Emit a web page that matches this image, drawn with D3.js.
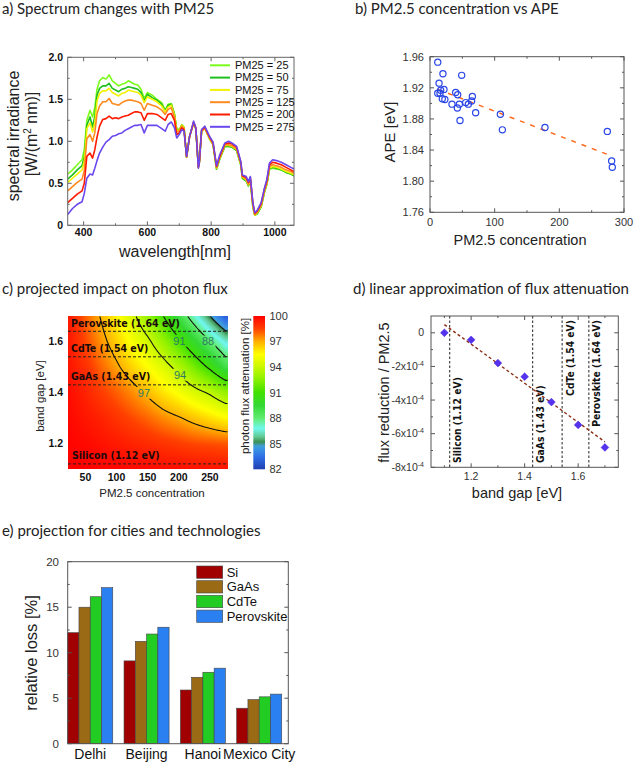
<!DOCTYPE html>
<html><head><meta charset="utf-8">
<script src="https://cdn.jsdelivr.net/npm/d3@7/dist/d3.min.js"></script>
<style>html,body{margin:0;padding:0;background:#fff}svg{display:block}</style>
</head><body>
<svg id="fig" width="642" height="762" xmlns="http://www.w3.org/2000/svg"></svg>
<script>
// ---------------- DATA ----------------
// a) spectra
const wl = [350,365,380,395,402,410,420,428,435,442,450,460,470,480,490,500,510,520,530,540,550,560,570,580,590,600,615,630,645,656,665,675,685,692,700,708,715,723,732,745,752,760,763,770,780,795,806,817,827,843,855,865,880,893,898,910,917,923,931,937,945,957,967,975,983,993,1005,1020,1035,1050,1060];
const s25 = [0.61,0.66,0.72,0.78,0.90,1.25,1.37,1.29,1.40,1.62,1.72,1.76,1.74,1.79,1.72,1.69,1.66,1.68,1.69,1.72,1.70,1.68,1.67,1.62,1.51,1.58,1.55,1.50,1.46,1.37,1.44,1.45,1.33,1.15,1.14,1.20,1.17,0.81,1.05,1.22,1.15,0.70,0.75,1.12,1.16,1.03,0.96,0.67,0.79,0.94,0.94,0.93,0.89,0.72,0.56,0.53,0.47,0.53,0.22,0.12,0.14,0.22,0.39,0.49,0.67,0.68,0.67,0.66,0.63,0.61,0.59];
const s50 = [0.55,0.60,0.66,0.71,0.82,1.19,1.29,1.17,1.30,1.55,1.63,1.66,1.66,1.69,1.63,1.61,1.59,1.62,1.63,1.65,1.64,1.63,1.62,1.58,1.48,1.56,1.52,1.49,1.44,1.36,1.43,1.44,1.32,1.14,1.13,1.19,1.16,0.81,1.05,1.22,1.15,0.70,0.75,1.12,1.16,1.03,0.96,0.67,0.79,0.94,0.94,0.93,0.89,0.72,0.56,0.53,0.47,0.53,0.22,0.12,0.14,0.22,0.39,0.49,0.67,0.69,0.68,0.66,0.63,0.61,0.59];
const s75 = [0.51,0.56,0.61,0.66,0.76,1.15,1.22,1.11,1.22,1.48,1.57,1.60,1.60,1.63,1.58,1.56,1.54,1.57,1.58,1.61,1.60,1.59,1.58,1.55,1.46,1.53,1.50,1.47,1.42,1.35,1.41,1.43,1.31,1.13,1.13,1.19,1.16,0.81,1.05,1.22,1.15,0.70,0.75,1.12,1.16,1.03,0.96,0.68,0.80,0.95,0.95,0.94,0.90,0.73,0.57,0.54,0.48,0.54,0.23,0.12,0.15,0.23,0.40,0.50,0.68,0.70,0.69,0.67,0.64,0.62,0.60];
const s125 = [0.41,0.46,0.51,0.55,0.65,1.03,1.08,1.00,1.10,1.33,1.42,1.47,1.47,1.51,1.45,1.44,1.43,1.46,1.48,1.49,1.49,1.48,1.47,1.45,1.37,1.45,1.43,1.41,1.37,1.32,1.38,1.40,1.29,1.11,1.12,1.18,1.15,0.81,1.05,1.22,1.15,0.69,0.75,1.12,1.16,1.04,0.97,0.69,0.81,0.96,0.96,0.95,0.91,0.74,0.58,0.55,0.49,0.55,0.24,0.13,0.16,0.24,0.41,0.51,0.70,0.72,0.71,0.69,0.66,0.64,0.62];
const s200 = [0.27,0.32,0.37,0.41,0.50,0.82,0.86,0.80,0.90,1.05,1.18,1.26,1.27,1.30,1.27,1.28,1.27,1.29,1.30,1.31,1.33,1.35,1.35,1.34,1.25,1.33,1.33,1.32,1.28,1.25,1.32,1.33,1.25,1.08,1.10,1.16,1.14,0.82,1.05,1.23,1.16,0.69,0.75,1.13,1.17,1.05,0.98,0.70,0.82,0.97,0.98,0.97,0.93,0.75,0.59,0.57,0.51,0.57,0.26,0.14,0.17,0.26,0.43,0.53,0.72,0.75,0.74,0.72,0.69,0.66,0.64];
const s275 = [0.13,0.20,0.25,0.28,0.38,0.56,0.61,0.60,0.68,0.77,0.86,0.93,0.99,1.02,1.06,1.07,1.09,1.10,1.13,1.15,1.17,1.19,1.19,1.20,1.10,1.19,1.19,1.19,1.15,1.12,1.20,1.23,1.16,1.04,1.08,1.14,1.12,0.82,1.05,1.24,1.16,0.68,0.75,1.14,1.18,1.06,0.99,0.71,0.84,0.98,1.00,0.98,0.94,0.76,0.60,0.58,0.52,0.58,0.27,0.15,0.18,0.27,0.44,0.55,0.74,0.78,0.77,0.75,0.72,0.69,0.67];
const pmLevels = [25,50,75,125,200,275];
const specColors = ['#7cfc1a','#1fbf1f','#f2f200','#ff8a1f','#ff1a00','#6a48ee'];
const xTicksA = [400,600,800,1000], xMinorA = [500,700,900];
const yTicksA = [0,0.5,1,1.5,2], yTickLabA = ['0','0.5','1.0','1.5','2.0'];

// b) APE scatter
const pmB  = [12,14,20,12,15.5,16.5,21.6,19,23,34,39.7,42.8,42.3,45.4,46.4,49,55.2,59.3,64.4,65.5,70.6,108.8,111.9,177.8,274.2,280.9,281.9];
const apeB = [1.953,1.926,1.938,1.913,1.913,1.917,1.918,1.906,1.905,1.899,1.914,1.911,1.894,1.899,1.878,1.936,1.901,1.899,1.903,1.909,1.888,1.886,1.866,1.869,1.864,1.826,1.818];
const trendXB = [12,282], trendYB = [1.918,1.832];
const xTicksB = [0,100,200,300], yTicksB = [1.76,1.80,1.84,1.88,1.92,1.96];

// c) heat map of photon flux attenuation [%]
const pmGrid = [25,50,75,100,125,150,175,200,225,250,275];
const egGrid = [1.1,1.2,1.3,1.4,1.5,1.6,1.7];
const att = [
  [100.0,100.0,99.9,99.9,99.8,99.8,99.7,99.7,99.6,99.6,99.5],
  [99.9,99.8,99.6,99.4,99.2,99.0,98.8,98.6,98.4,98.3,98.2],
  [99.8,99.5,99.2,98.8,98.4,98.0,97.5,97.1,96.6,96.1,95.6],
  [99.7,99.2,98.6,98.1,97.5,96.8,96.0,95.3,94.5,93.8,92.8],
  [99.5,98.9,98.0,97.2,96.3,95.5,94.6,93.5,92.1,90.7,89.0],
  [99.4,98.4,97.4,96.4,95.3,94.3,92.9,91.3,89.7,88.1,86.5],
  [99.4,98.1,96.9,95.7,94.4,92.8,91.0,89.1,87.1,85.0,82.9]
];
const contourLevels = [97,94,91,88,85];
const contourLabels = ['97','94','91','88'];
const contourLabelPM = [144,202,201,247];
const contourLabelEg = [1.399,1.470,1.603,1.600];
const matNames = ['Silicon (1.12 eV)','GaAs (1.43 eV)','CdTe (1.54 eV)','Perovskite (1.64 eV)'];
const matGaps = [1.12,1.43,1.54,1.64];
const xTicksC = [50,100,150,200,250], yTicksC = [1.2,1.4,1.6];
const cbTicks = [100,97,94,91,88,85,82];
const cmapStops  = [82,83.5,84.7,85.2,85.8,86.8,88,89.5,91,92.5,94,95.5,97,98.5,100];
const cmapColors = ['#2040b0','#2f70e8','#40a0e0','#3c8c50','#60c890','#70f8f0','#60ec70','#34d834','#40e000','#88f000','#c8f800','#ffff00','#ffb000','#ff4000','#ff0000'];

// d) linear approximation
const bgD = [1.1,1.2,1.3,1.4,1.5,1.6,1.7];
const slopeD = [0,-0.42e-4,-1.8e-4,-2.61e-4,-4.12e-4,-5.48e-4,-6.82e-4];
const errD = [0.05e-4,0.1e-4,0.08e-4,0.1e-4,0.1e-4,0.18e-4,0.2e-4];
const fitXD = [1.1,1.7], fitYD = [0.49e-4,-6.49e-4];
const xTicksD = [1.2,1.4,1.6], xMinorD = [1.1,1.3,1.5,1.7];
const yTicksD = [0,-2e-4,-4e-4,-6e-4,-8e-4], yTickLabD = ['0','-2x10','-4x10','-6x10','-8x10'];

// e) cities
const cities = ['Delhi','Beijing','Hanoi','Mexico City'];
const techs = ['Si','GaAs','CdTe','Perovskite'];
const lossSi   = [12.2,9.1,5.9,3.9];
const lossGaAs = [15.0,11.25,7.3,4.85];
const lossCdTe = [16.15,12.05,7.85,5.15];
const lossPero = [17.15,12.8,8.3,5.45];
const techColors = ['#a00000','#9a6a14','#22cc22','#2a80f0'];
const yTicksE = [0,5,10,15,20];

// ---------------- DRAWING ----------------
const ARIAL = '"Liberation Sans", Arial, sans-serif';
const NARROW = '"Liberation Sans Narrow","Arial Narrow","DejaVu Sans Condensed",sans-serif';
const svg = d3.select('#fig');
const defs = svg.append('defs');
svg.append('rect').attr('width',642).attr('height',762).attr('fill','#fff');

function txt(g, x, y, s, o={}) {
  const t = g.append('text').attr('x',x).attr('y',y).text(s)
    .attr('font-family', o.ff||ARIAL).attr('font-size', o.fs||11)
    .attr('fill', o.fill||'#222').attr('text-anchor', o.anchor||'start');
  if (o.fw) t.attr('font-weight', o.fw);
  if (o.dy) t.attr('dy', o.dy);
  return t;
}
function rtext(g, cx, cy, fs, anchor) {
  return g.append('g').attr('transform',`translate(${cx},${cy}) rotate(-90)`)
    .append('text').attr('x',0).attr('y',0.35*fs).attr('font-family',ARIAL)
    .attr('font-size',fs).attr('fill','#222').attr('text-anchor',anchor||'middle');
}
function hTicks(g, x, vals, yBot, yTop, len, col) {
  g.selectAll(null).data(vals).join('line').attr('x1',d=>x(d)).attr('x2',d=>x(d))
    .attr('y1',yBot).attr('y2',yBot-len).attr('stroke',col);
  if (yTop!=null) g.selectAll(null).data(vals).join('line').attr('x1',d=>x(d)).attr('x2',d=>x(d))
    .attr('y1',yTop).attr('y2',yTop+len).attr('stroke',col);
}
function vTicks(g, y, vals, xL, xR, len, col) {
  g.selectAll(null).data(vals).join('line').attr('y1',d=>y(d)).attr('y2',d=>y(d))
    .attr('x1',xL).attr('x2',xL+len).attr('stroke',col);
  if (xR!=null) g.selectAll(null).data(vals).join('line').attr('y1',d=>y(d)).attr('y2',d=>y(d))
    .attr('x1',xR).attr('x2',xR-len).attr('stroke',col);
}
function frame(g, x, y, col) {
  const [x0,x1]=x.range(); const [y1,y0]=y.range();
  g.append('rect').attr('x',x0).attr('y',y0).attr('width',x1-x0).attr('height',y1-y0)
    .attr('fill','none').attr('stroke',col).attr('stroke-width',1);
}
function title(x,y,t){ svg.append('text').attr('x',x).attr('y',y).attr('font-family','Lato, "Open Sans", sans-serif').attr('font-size',15).attr('fill','#222').text(t); }

title(2,13.5,'a) Spectrum changes with PM25');
title(355,13.5,'b) PM2.5 concentration vs APE');
title(2,294,'c) projected impact on photon flux');
title(353,294,'d) linear approximation of flux attenuation');
title(2,535.5,'e) projection for cities and technologies');

// ===== Panel a =====
{
  const g = svg.append('g');
  const x = d3.scaleLinear().domain([350,1060]).range([67.7,294]);
  const y = d3.scaleLinear().domain([0,2]).range([225.3,57.3]);
  defs.append('clipPath').attr('id','clipA').append('rect').attr('x',67.7).attr('y',57.3).attr('width',294-67.7).attr('height',225.3-57.3);
  const line = d3.line().x((d,i)=>x(wl[i])).y(d=>y(d));
  const series = [s25,s50,s75,s125,s200,s275];
  const pg = g.append('g').attr('clip-path','url(#clipA)');
  series.forEach((s,k)=>pg.append('path').attr('d',line(s)).attr('fill','none')
    .attr('stroke',specColors[k]).attr('stroke-width',1.6).attr('stroke-linejoin','round'));
  frame(g,x,y,'#666');
  hTicks(g,x,xTicksA,225.3,57.3,4,'#666'); hTicks(g,x,xMinorA,225.3,57.3,2,'#666');
  vTicks(g,y,yTicksA,67.7,294,4,'#666'); vTicks(g,y,[0.25,0.75,1.25,1.75],67.7,294,2,'#666');
  xTicksA.forEach(v=>txt(g,x(v),236,String(v),{fs:10.5,fw:'bold',anchor:'middle',fill:'#111'}));
  yTicksA.forEach((v,i)=>txt(g,63,y(v),yTickLabA[i],{fs:10.5,fw:'bold',anchor:'end',dy:'0.35em',fill:'#111'}));
  pmLevels.forEach((p,k)=>{
    const yy = 65.3 + k*12.3;
    g.append('line').attr('x1',210).attr('x2',230).attr('y1',yy).attr('y2',yy).attr('stroke',specColors[k]).attr('stroke-width',2);
    txt(g,235,yy,'PM25 = '+p,{fs:11,dy:'0.35em',fill:'#111'});
  });
  rtext(g,13.5,136,16).text('spectral irradiance');
  const t2 = rtext(g,31.7,134,16);
  t2.append('tspan').text('[W/(m');
  t2.append('tspan').attr('dy',-6).attr('font-size',10).text('2');
  t2.append('tspan').attr('dy',6).text(' nm)]');
  txt(g,175,257,'wavelength[nm]',{fs:16,anchor:'middle'});
}

// ===== Panel b =====
{
  const g = svg.append('g');
  const x = d3.scaleLinear().domain([0,300]).range([430,624]);
  const y = d3.scaleLinear().domain([1.76,1.96]).range([212.3,56.7]);
  frame(g,x,y,'#555');
  hTicks(g,x,xTicksB,212.3,56.7,4,'#555'); hTicks(g,x,[50,150,250],212.3,56.7,2,'#555');
  vTicks(g,y,yTicksB,430,624,4,'#555'); vTicks(g,y,[1.78,1.82,1.86,1.90,1.94],430,624,2,'#555');
  xTicksB.forEach(v=>txt(g,x(v),226,String(v),{fs:11,anchor:'middle',fill:'#333'}));
  yTicksB.forEach(v=>txt(g,424,y(v),v.toFixed(2),{fs:11,anchor:'end',dy:'0.35em',fill:'#333'}));
  g.append('path').attr('d',d3.line().x((d,i)=>x(trendXB[i])).y(d=>y(d))(trendYB))
    .attr('stroke','#ff6a20').attr('stroke-width',1.5).attr('stroke-dasharray','5,6').attr('fill','none');
  g.selectAll(null).data(pmB).join('circle').attr('cx',d=>x(d)).attr('cy',(d,i)=>y(apeB[i])).attr('r',3.1)
    .attr('fill','none').attr('stroke','#2a46e6').attr('stroke-width',1.2);
  rtext(g,390,132,15).text('APE [eV]');
  txt(g,520,245,'PM2.5 concentration',{fs:14.5,anchor:'middle'});
}

// ===== Panel c =====
{
  const g = svg.append('g');
  const X0=68, X1=228, Y0=316, Y1=469;
  const x = d3.scaleLinear().domain([22,279]).range([X0,X1]);
  const y = d3.scaleLinear().domain([1.1,1.7]).range([Y1,Y0]);
  const cmap = d3.scaleLinear().domain(cmapStops).range(cmapColors).clamp(true);
  function bil(pm, eg){
    const fx = Math.max(0, Math.min(pmGrid.length-1.0001, (pm-pmGrid[0])/(pmGrid[1]-pmGrid[0])));
    const fy = Math.max(0, Math.min(egGrid.length-1.0001, (eg-egGrid[0])/(egGrid[1]-egGrid[0])));
    const i=Math.floor(fx), j=Math.floor(fy), tx=fx-i, ty=fy-j;
    return att[j][i]*(1-tx)*(1-ty)+att[j][i+1]*tx*(1-ty)+att[j+1][i]*(1-tx)*ty+att[j+1][i+1]*tx*ty;
  }
  const W=X1-X0, H=Y1-Y0;
  const cv=document.createElement('canvas'); cv.width=W; cv.height=H;
  const ctx=cv.getContext('2d'); const img=ctx.createImageData(W,H);
  const vals = new Array(W*H);
  for(let j=0;j<H;j++) for(let i=0;i<W;i++){
    const v = bil(x.invert(X0+i+0.5), y.invert(Y0+j+0.5));
    vals[j*W+i]=v;
    const c=d3.rgb(cmap(v)); const k=(j*W+i)*4;
    img.data[k]=c.r; img.data[k+1]=c.g; img.data[k+2]=c.b; img.data[k+3]=255;
  }
  ctx.putImageData(img,0,0);
  g.append('image').attr('x',X0).attr('y',Y0).attr('width',W).attr('height',H).attr('href',cv.toDataURL());

  // contour lines
  const conts = d3.contours().size([W,H]).thresholds(contourLevels)(vals);
  const onEdge = p => p[0]<=1 || p[0]>=W-1 || p[1]<=1 || p[1]>=H-1;
  let dstr='';
  conts.forEach(c=>c.coordinates.forEach(poly=>poly.forEach(ring=>{
    let pen=false;
    for(let k=1;k<ring.length;k++){
      const a=ring[k-1], b=ring[k];
      if(onEdge(a)&&onEdge(b)){ pen=false; continue; }
      if(!pen){ dstr+=`M${(X0+a[0]).toFixed(2)},${(Y0+a[1]).toFixed(2)}`; pen=true; }
      dstr+=`L${(X0+b[0]).toFixed(2)},${(Y0+b[1]).toFixed(2)}`;
    }
  })));
  const mask = defs.append('mask').attr('id','lblMask').attr('maskUnits','userSpaceOnUse').attr('x',0).attr('y',0).attr('width',642).attr('height',762);
  mask.append('rect').attr('x',0).attr('y',0).attr('width',642).attr('height',762).attr('fill','white');
  contourLabels.forEach((l,i)=>mask.append('rect').attr('x',x(contourLabelPM[i])-7.5).attr('y',y(contourLabelEg[i])-6).attr('width',15).attr('height',12).attr('fill','black'));
  g.append('path').attr('d',dstr).attr('fill','none').attr('stroke','#111').attr('stroke-width',1.1).attr('mask','url(#lblMask)');
  contourLabels.forEach((l,i)=>txt(g,x(contourLabelPM[i]),y(contourLabelEg[i]),l,{fs:11,anchor:'middle',dy:'0.36em',fill:'#2d7a68'}));

  // material lines
  matGaps.forEach((e,i)=>{
    g.append('line').attr('x1',X0).attr('x2',X1).attr('y1',y(e)).attr('y2',y(e))
      .attr('stroke','#222').attr('stroke-width',1).attr('stroke-dasharray','3,2');
    txt(g,i===0?72:71,y(e)-4.5,matNames[i],{fs:10.5,fw:'bold',ff:NARROW,fill:'#1a0a0a'});
  });
  xTicksC.forEach(v=>txt(g,x(v),480.5,String(v),{fs:10.5,fw:'bold',anchor:'middle',fill:'#111'}));
  yTicksC.forEach(v=>txt(g,63,y(v),v.toFixed(1),{fs:10.5,fw:'bold',anchor:'end',dy:'0.35em',fill:'#111'}));
  rtext(g,40,396,11.5).text('band gap [eV]');
  txt(g,152,497,'PM2.5 concentration',{fs:11.5,anchor:'middle'});

  // colorbar
  const cb = d3.scaleLinear().domain([82,100]).range([469.3,316]);
  const grad = defs.append('linearGradient').attr('id','cbGrad').attr('x1',0).attr('y1',1).attr('x2',0).attr('y2',0);
  d3.range(82,100.01,0.25).forEach(v=>grad.append('stop').attr('offset',(v-82)/18).attr('stop-color',cmap(v)));
  g.append('rect').attr('x',253.3).attr('y',cb(100)).attr('width',11.7).attr('height',cb(82)-cb(100)).attr('fill','url(#cbGrad)');
  cbTicks.forEach(v=>txt(g,269.5,cb(v),String(v),{fs:11,dy:'0.35em',fill:'#333'}));
  rtext(g,245,386,11.5).text('photon flux attenuation [%]');
}

// ===== Panel d =====
{
  const g = svg.append('g');
  const x = d3.scaleLinear().domain([1.05,1.75]).range([431,618.3]);
  const y = d3.scaleLinear().domain([-8e-4,1e-4]).range([467.3,316]);
  matGaps.forEach((e,i)=>{
    g.append('line').attr('x1',x(e)).attr('x2',x(e)).attr('y1',316).attr('y2',467.3)
      .attr('stroke','#222').attr('stroke-width',1).attr('stroke-dasharray','2.5,2');
    const top = i>=2;
    const lg = g.append('g').attr('transform',`translate(${x(e)+8},${top?320:463}) rotate(-90)`);
    lg.append('text').attr('x',0).attr('y',3.6).attr('font-family',NARROW).attr('font-weight','bold')
      .attr('font-size',10.3).attr('fill','#111').attr('text-anchor',top?'end':'start').text(matNames[i]);
  });
  g.append('path').attr('d',d3.line().x((d,i)=>x(fitXD[i])).y(d=>y(d))(fitYD))
    .attr('stroke','#8a2a10').attr('stroke-width',1.4).attr('stroke-dasharray','3,2.5').attr('fill','none');
  g.selectAll(null).data(bgD).join('line').attr('x1',d=>x(d)).attr('x2',d=>x(d))
    .attr('y1',(d,i)=>y(slopeD[i]-errD[i])).attr('y2',(d,i)=>y(slopeD[i]+errD[i]))
    .attr('stroke','#7a66f0').attr('stroke-width',1);
  const sym = d3.symbol(d3.symbolSquare,30);
  g.selectAll(null).data(bgD).join('path').attr('d',sym)
    .attr('transform',(d,i)=>`translate(${x(d)},${y(slopeD[i])}) rotate(45)`)
    .attr('fill','#5533ee').attr('stroke','#4422dd').attr('stroke-width',0.5);
  frame(g,x,y,'#555');
  hTicks(g,x,xTicksD,467.3,316,4,'#555'); hTicks(g,x,xMinorD,467.3,316,2,'#555');
  vTicks(g,y,yTicksD,431,618.3,4,'#555'); vTicks(g,y,[-1e-4,-3e-4,-5e-4,-7e-4],431,618.3,2,'#555');
  xTicksD.forEach(v=>txt(g,x(v),480,v.toFixed(1),{fs:10.5,anchor:'middle',fill:'#333'}));
  yTicksD.forEach((v,i)=>{
    const t = txt(g,424,y(v),'',{fs:10.5,anchor:'end',dy:'0.35em',fill:'#333'});
    t.append('tspan').text(yTickLabD[i]);
    if(v!==0) t.append('tspan').attr('dy',-4).attr('font-size',7).text('-4');
  });
  rtext(g,383.5,392.5,14.5).text('flux reduction / PM2.5');
  txt(g,517,498,'band gap [eV]',{fs:14.5,anchor:'middle'});
}

// ===== Panel e =====
{
  const g = svg.append('g');
  const x = d3.scaleBand().domain(cities).range([67.7,293]).paddingInner(0).paddingOuter(0);
  const sub = d3.scaleBand().domain(techs).range([0,x.bandwidth()*0.8]);
  const y = d3.scaleLinear().domain([0,20]).range([743.7,561.7]);
  const data = [lossSi,lossGaAs,lossCdTe,lossPero];
  techs.forEach((t,k)=>{
    g.selectAll(null).data(cities).join('rect')
      .attr('x',c=>x(c)+sub(t)).attr('width',sub.bandwidth())
      .attr('y',(c,i)=>y(data[k][i])).attr('height',(c,i)=>y(0)-y(data[k][i]))
      .attr('fill',techColors[k]).attr('stroke','#444').attr('stroke-width',0.6);
  });
  const fx = d3.scaleLinear().range([67.7,288.3]);
  g.append('rect').attr('x',67.7).attr('y',561.7).attr('width',288.3-67.7).attr('height',743.7-561.7)
    .attr('fill','none').attr('stroke','#555');
  vTicks(g,y,yTicksE,67.7,288.3,4,'#555'); vTicks(g,y,[2.5,7.5,12.5,17.5],67.7,288.3,2,'#555');
  yTicksE.forEach(v=>txt(g,59,y(v),String(v),{fs:11.5,anchor:'end',dy:'0.35em',fill:'#333'}));
  cities.forEach(c=>txt(g,x(c)+x.bandwidth()*0.4,759,c,{fs:14,anchor:'middle',fill:'#111'}));
  techs.forEach((t,k)=>{
    const yy = 566 + k*14.7;
    g.append('rect').attr('x',196.7).attr('y',yy).attr('width',26).attr('height',12.3)
      .attr('fill',techColors[k]).attr('stroke','#444').attr('stroke-width',0.6);
    txt(g,226.7,yy+6.2,t,{fs:13,dy:'0.35em',fill:'#111'});
  });
  rtext(g,31.7,653,16.5).text('relative loss [%]');
}
</script>
</body></html>
